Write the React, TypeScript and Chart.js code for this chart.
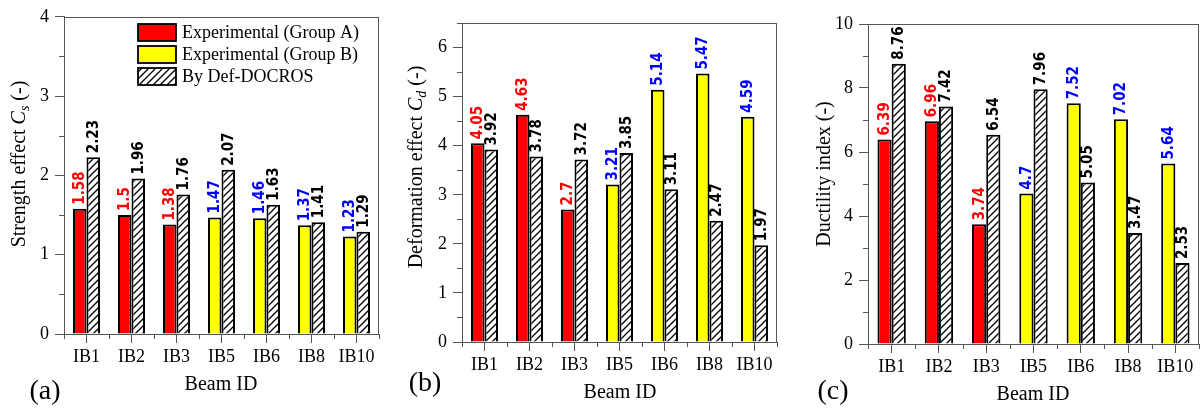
import React, { useEffect, useRef } from 'react';
import { Chart, registerables } from 'chart.js';
Chart.register(...registerables);

// ---------- data ----------
const beams = ['IB1', 'IB2', 'IB3', 'IB5', 'IB6', 'IB8', 'IB10'];
const beamGroup = ['A', 'A', 'A', 'B', 'B', 'B', 'B'];
const strengthExp = [1.58, 1.5, 1.38, 1.47, 1.46, 1.37, 1.23];
const strengthDef = [2.23, 1.96, 1.76, 2.07, 1.63, 1.41, 1.29];
const deformExp = [4.05, 4.63, 2.7, 3.21, 5.14, 5.47, 4.59];
const deformDef = [3.92, 3.78, 3.72, 3.85, 3.11, 2.47, 1.97];
const ductExp = [6.39, 6.96, 3.74, 4.7, 7.52, 7.02, 5.64];
const ductDef = [8.76, 7.42, 6.54, 7.96, 5.05, 3.47, 2.53];
const legendLabels = ['Experimental (Group A)', 'Experimental (Group B)', 'By Def-DOCROS'];
const xTitle = 'Beam ID';

// ---------- styles ----------
const SERIF = '"Liberation Serif", "Times New Roman", serif';
const LABEL_FONT = 'bold 15px "Liberation Sans Narrow", "Arial Narrow", "DejaVu Sans Condensed", sans-serif';
const RED = '#ff0000';
const YELLOW = '#ffff00';
const AX = '#555555';

type Panel = {
  id: string;
  left: number;
  width: number;
  area: { l: number; t: number; r: number; b: number };
  exp: number[];
  def: number[];
  yMax: number;
  yStep: number;
  yMinor: number;
  title: { text: string; italic?: string; sub?: string; rest?: string };
  titlePos: [number, number];
  tag: string;
  tagPos: [number, number];
  xTitlePos: [number, number];
  legend: boolean;
};

const panels: Panel[] = [
  {
    id: 'a', left: 0, width: 400,
    area: { l: 64, t: 15, r: 379, b: 334 },
    exp: strengthExp, def: strengthDef, yMax: 4, yStep: 1, yMinor: 0.5,
    title: { text: 'Strength effect ', italic: 'C', sub: 's', rest: ' (-)' },
    titlePos: [20, 164], tag: '(a)', tagPos: [45, 392], xTitlePos: [221, 385], legend: true,
  },
  {
    id: 'b', left: 400, width: 400,
    area: { l: 62, t: 23, r: 377, b: 342 },
    exp: deformExp, def: deformDef, yMax: 6.5, yStep: 1, yMinor: 0.5,
    title: { text: 'Deformation effect ', italic: 'C', sub: 'd', rest: ' (-)' },
    titlePos: [17, 167], tag: '(b)', tagPos: [25, 384], xTitlePos: [220, 393], legend: false,
  },
  {
    id: 'c', left: 800, width: 403,
    area: { l: 68, t: 24, r: 399, b: 344 },
    exp: ductExp, def: ductDef, yMax: 10, yStep: 2, yMinor: 1,
    title: { text: 'Ductility index (-)' },
    titlePos: [25, 174], tag: '(c)', tagPos: [33, 392], xTitlePos: [233, 395], legend: false,
  },
];

const H = 417;

function makeHatch(): CanvasPattern | string {
  const s = 7;
  const c = document.createElement('canvas');
  c.width = s; c.height = s;
  const g = c.getContext('2d');
  if (!g) return '#fff';
  g.fillStyle = '#fff';
  g.fillRect(0, 0, s, s);
  g.strokeStyle = '#000';
  g.lineWidth = 1.3;
  g.beginPath();
  g.moveTo(0, s); g.lineTo(s, 0);
  g.moveTo(-1, 1); g.lineTo(1, -1);
  g.moveTo(s - 1, s + 1); g.lineTo(s + 1, s - 1);
  g.stroke();
  const p = g.createPattern(c, 'repeat');
  return p || '#fff';
}

function drawYTitle(ctx: CanvasRenderingContext2D, p: Panel) {
  const size = 20;
  const segs: { t: string; f: string; dy: number }[] = [];
  segs.push({ t: p.title.text, f: `${size}px ${SERIF}`, dy: 0 });
  if (p.title.italic) segs.push({ t: p.title.italic, f: `italic ${size}px ${SERIF}`, dy: 0 });
  if (p.title.sub) segs.push({ t: p.title.sub, f: `italic ${Math.round(size * 0.7)}px ${SERIF}`, dy: 5 });
  if (p.title.rest) segs.push({ t: p.title.rest, f: `${size}px ${SERIF}`, dy: 0 });
  ctx.save();
  let total = 0;
  const widths = segs.map((s) => { ctx.font = s.f; const w = ctx.measureText(s.t).width; total += w; return w; });
  ctx.translate(p.titlePos[0], p.titlePos[1]);
  ctx.rotate(-Math.PI / 2);
  ctx.fillStyle = '#000';
  ctx.textBaseline = 'middle';
  ctx.textAlign = 'left';
  let x = -total / 2;
  segs.forEach((s, i) => { ctx.font = s.f; ctx.fillText(s.t, x, s.dy); x += widths[i]; });
  ctx.restore();
}

function makePlugin(p: Panel, hatch: CanvasPattern | string) {
  return {
    id: 'custom-' + p.id,
    afterDatasetsDraw(chart: any) {
      const ctx: CanvasRenderingContext2D = chart.ctx;
      ctx.save();
      ctx.font = LABEL_FONT;
      ctx.textAlign = 'left';
      ctx.textBaseline = 'middle';
      chart.data.datasets.forEach((ds: any, di: number) => {
        const meta = chart.getDatasetMeta(di);
        meta.data.forEach((bar: any, i: number) => {
          const v = ds.data[i];
          let color = '#000';
          if (di === 0) color = beamGroup[i] === 'A' ? '#ff0000' : '#0000ff';
          ctx.save();
          ctx.translate(bar.x, bar.y - 4);
          ctx.rotate(-Math.PI / 2);
          ctx.fillStyle = color;
          ctx.fillText(String(v), 0, 0.5);
          ctx.restore();
        });
      });
      ctx.restore();
    },
    afterDraw(chart: any) {
      const ctx: CanvasRenderingContext2D = chart.ctx;
      const a = chart.chartArea;
      const xs = chart.scales.x;
      const ys = chart.scales.y;
      ctx.save();
      ctx.strokeStyle = AX;
      ctx.lineWidth = 1;
      const top = Math.round(a.top) + 0.5;
      const right = Math.round(a.right) - 0.5;
      ctx.beginPath();
      ctx.moveTo(a.left, top); ctx.lineTo(Math.round(a.right), top);
      ctx.moveTo(right, a.top); ctx.lineTo(right, a.bottom);
      ctx.stroke();
      ctx.beginPath();
      for (let v = p.yMinor; v <= p.yMax + 1e-9; v += p.yStep) {
        const y = Math.round(ys.getPixelForValue(v)) + 0.5;
        ctx.moveTo(a.left - 5, y); ctx.lineTo(a.left, y);
      }
      const step = xs.getPixelForValue(1) - xs.getPixelForValue(0);
      for (let i = 0; i <= beams.length; i++) {
        const x = Math.round(xs.getPixelForValue(i) - step / 2) + 0.5;
        ctx.moveTo(x, a.bottom); ctx.lineTo(x, a.bottom + 5);
      }
      ctx.stroke();
      ctx.restore();

      drawYTitle(ctx, p);
      ctx.save();
      ctx.fillStyle = '#000';
      ctx.textAlign = 'center';
      ctx.textBaseline = 'middle';
      ctx.font = `20px ${SERIF}`;
      ctx.fillText(xTitle, p.xTitlePos[0], p.xTitlePos[1]);
      ctx.font = `28px ${SERIF}`;
      ctx.fillText(p.tag, p.tagPos[0], p.tagPos[1]);
      ctx.restore();

      if (p.legend) {
        const fills: (string | CanvasPattern)[] = [RED, YELLOW, hatch];
        const rowsTop = [24, 46, 68];
        ctx.save();
        legendLabels.forEach((lab, i) => {
          const bx = 138, by = rowsTop[i], bw = 38, bh = 17;
          ctx.fillStyle = fills[i] as any;
          ctx.fillRect(bx, by, bw, bh);
          ctx.strokeStyle = '#000';
          ctx.lineWidth = 1.8;
          ctx.strokeRect(bx, by, bw, bh);
          ctx.fillStyle = '#000';
          ctx.font = `18px ${SERIF}`;
          ctx.textAlign = 'left';
          ctx.textBaseline = 'middle';
          ctx.fillText(lab, 182, by + bh / 2 + 1);
        });
        ctx.restore();
      }
    },
  };
}

function PanelChart({ p }: { p: Panel }) {
  const ref = useRef<HTMLCanvasElement>(null);
  useEffect(() => {
    if (!ref.current) return;
    const hatch = makeHatch();
    const chart = new Chart(ref.current, {
      type: 'bar',
      data: {
        labels: beams,
        datasets: [
          {
            label: 'Experimental',
            data: p.exp,
            backgroundColor: beams.map((_, i) => (beamGroup[i] === 'A' ? RED : YELLOW)),
            borderColor: '#000',
            borderWidth: 2,
            categoryPercentage: 0.6,
            barPercentage: 1,
          },
          {
            label: 'By Def-DOCROS',
            data: p.def,
            backgroundColor: hatch as any,
            borderColor: '#000',
            borderWidth: 2,
            categoryPercentage: 0.6,
            barPercentage: 1,
          },
        ],
      },
      options: {
        animation: false,
        responsive: false,
        devicePixelRatio: 1,
        layout: { padding: { left: 0, top: p.area.t, right: p.width - p.area.r, bottom: 0 } },
        plugins: { legend: { display: false }, tooltip: { enabled: false } },
        scales: {
          x: {
            grid: { offset: false, drawOnChartArea: false, drawTicks: true, tickLength: 9, color: AX },
            border: { display: true, color: AX, width: 1 },
            ticks: { font: { family: SERIF, size: 18 }, color: '#000', padding: 3, maxRotation: 0, autoSkip: false },
            afterFit: (s: any) => { s.height = H - p.area.b; },
          },
          y: {
            min: 0,
            max: p.yMax,
            grid: { drawOnChartArea: false, drawTicks: true, tickLength: 9, color: AX },
            border: { display: true, color: AX, width: 1 },
            ticks: { stepSize: p.yStep, includeBounds: false, font: { family: SERIF, size: 18 }, color: '#000', padding: 6 },
            afterFit: (s: any) => { s.width = p.area.l; },
          },
        },
      } as any,
      plugins: [makePlugin(p, hatch)],
    });
    return () => chart.destroy();
  }, [p]);
  return (
    <canvas
      ref={ref}
      width={p.width}
      height={H}
      style={{ position: 'absolute', left: p.left, top: 0, width: p.width, height: H }}
    />
  );
}

export default function App() {
  return (
    <div style={{ position: 'fixed', left: 0, top: 0, width: 1203, height: H, background: '#fff', overflow: 'hidden' }}>
      {panels.map((p) => (
        <PanelChart key={p.id} p={p} />
      ))}
    </div>
  );
}
